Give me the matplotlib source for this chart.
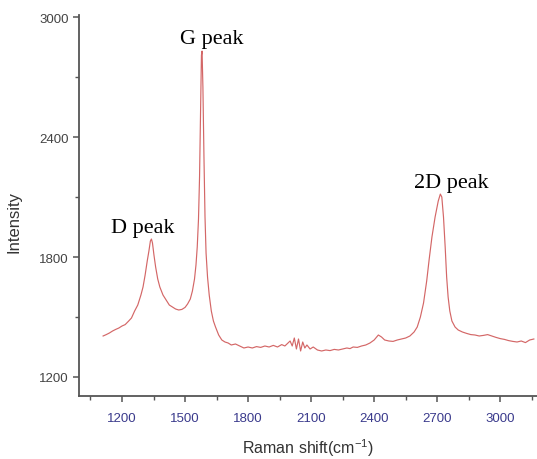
import numpy as np
import matplotlib
matplotlib.use('Agg')
import matplotlib.pyplot as plt
from matplotlib.ticker import MultipleLocator

plt.rcParams['mathtext.fontset'] = 'custom'
plt.rcParams['mathtext.rm'] = 'Liberation Sans'
plt.rcParams['mathtext.default'] = 'rm'

### DATA
shift = [1110, 1125, 1140, 1155, 1170, 1185, 1200, 1215, 1230, 1245,
         1260, 1275, 1290, 1300, 1310, 1320, 1328, 1335, 1340, 1345,
         1352, 1360, 1370, 1380, 1395, 1410, 1425, 1440, 1455, 1470,
         1485, 1500, 1512, 1525, 1535, 1545, 1552, 1558, 1564, 1569,
         1574, 1578, 1581, 1585, 1590, 1595, 1600, 1607, 1615, 1625,
         1635, 1645, 1660, 1675, 1690, 1705, 1720, 1740, 1760, 1780,
         1800, 1820, 1840, 1860, 1880, 1900, 1920, 1940, 1960, 1975,
         1990, 2000, 2010, 2020, 2030, 2040, 2050, 2060, 2070, 2080,
         2095, 2110, 2130, 2150, 2170, 2190, 2210, 2230, 2250, 2270,
         2285, 2300, 2320, 2340, 2360, 2380, 2400, 2420, 2435, 2450,
         2470, 2490, 2510, 2530, 2550, 2570, 2590, 2605, 2620, 2635,
         2650, 2662, 2675, 2690, 2705, 2715, 2722, 2730, 2738, 2745,
         2752, 2760, 2770, 2785, 2800, 2820, 2840, 2860, 2880, 2900,
         2920, 2940, 2960, 2980, 3000, 3020, 3040, 3060, 3080, 3100,
         3120, 3140, 3160]
intensity = [1405, 1412, 1420, 1430, 1438, 1445, 1455, 1462, 1478, 1495,
             1530, 1560, 1610, 1650, 1710, 1780, 1830, 1880, 1890, 1870,
             1810, 1750, 1690, 1650, 1610, 1585, 1560, 1550, 1540, 1535,
             1538, 1548, 1565, 1590, 1630, 1690, 1760, 1850, 1990, 2200,
             2550, 2810, 2830, 2650, 2300, 2000, 1820, 1700, 1610, 1530,
             1480, 1450, 1410, 1385, 1375, 1370, 1360, 1365, 1355, 1345,
             1350, 1345, 1352, 1348, 1355, 1350, 1358, 1350, 1362, 1355,
             1370, 1380, 1355, 1395, 1340, 1390, 1330, 1375, 1345, 1360,
             1340, 1350, 1335, 1330, 1335, 1332, 1338, 1335, 1340, 1345,
             1342, 1350, 1348, 1355, 1360, 1370, 1385, 1410, 1400, 1385,
             1380, 1378, 1385, 1390, 1395, 1405, 1425, 1450, 1500, 1570,
             1680, 1790, 1900, 2000, 2080, 2115, 2100, 2000, 1850, 1700,
             1600, 1530, 1480, 1450, 1435, 1425, 1418, 1412, 1410, 1405,
             1408, 1412, 1405, 1398, 1392, 1388, 1382, 1378, 1375, 1380,
             1372, 1385, 1390]

peak_names = ['D peak', 'G peak', '2D peak']
peak_x = [1297, 1626, 2769]
peak_y = [1950, 2895, 2175]

xticks = [1200, 1500, 1800, 2100, 2400, 2700, 3000]
yticks = [1200, 1800, 2400, 3000]

### PLOT
fig = plt.figure(figsize=(5.37, 4.6), dpi=100)
ax = fig.add_axes([0.147, 0.137, 0.853, 0.828])
ax.plot(shift, intensity, color='#cc4c4c', lw=0.85, alpha=0.85)

for name, px, py in zip(peak_names, peak_x, peak_y):
    ax.text(px, py, name, ha='center', va='center', fontsize=16,
            family='Liberation Serif', color='black')

ax.set_xlim(995, 3175)
ax.set_ylim(1105, 3010)
ax.set_xticks(xticks)
ax.set_yticks(yticks)
ax.xaxis.set_minor_locator(MultipleLocator(150))
ax.yaxis.set_minor_locator(MultipleLocator(300))

for s in ['top', 'right']:
    ax.spines[s].set_visible(False)
for s in ['left', 'bottom']:
    ax.spines[s].set_color('#555555')
    ax.spines[s].set_linewidth(1.3)

ax.tick_params(which='major', direction='out', length=4.5, width=1.1, color='#555555')
ax.tick_params(which='minor', direction='out', length=3, width=1.0, color='#555555')
ax.tick_params(axis='x', which='major', pad=7, labelsize=9.5, labelcolor='#3a3a8c')
ax.tick_params(axis='y', which='major', pad=3, labelsize=9.5, labelcolor='#444444')
for lab in ax.get_xticklabels() + ax.get_yticklabels():
    lab.set_family('Liberation Sans')

ax.set_xlabel('Raman shift(cm$^{-1}$)', fontsize=11.5, family='Liberation Sans',
              color='#333333')
ax.xaxis.set_label_coords(0.5, -0.105)
ax.set_ylabel('Intensity', fontsize=12, family='Liberation Sans',
              color='#333333')
ax.yaxis.set_label_coords(-0.125, 0.46)

fig.savefig('out.png', dpi=100)
